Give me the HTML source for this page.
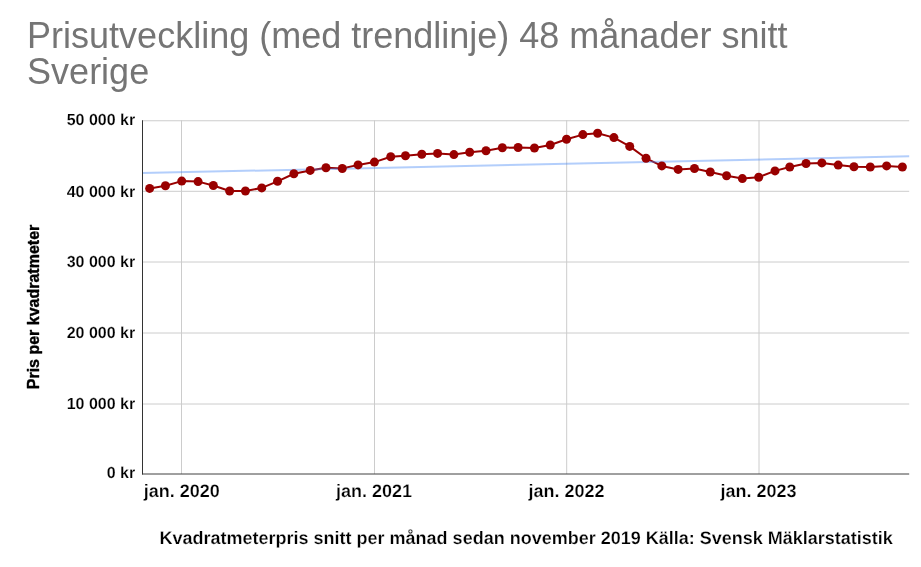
<!DOCTYPE html>
<html lang="sv">
<head>
<meta charset="utf-8">
<title>Prisutveckling (med trendlinje) 48 månader snitt Sverige</title>
<style>
html,body{margin:0;padding:0;background:#fff;}
body{width:921px;height:567px;overflow:hidden;font-family:"Liberation Sans",Arial,sans-serif;}
svg{display:block;will-change:transform;}
text{font-family:"Liberation Sans",Arial,sans-serif;}
.ylab,.xlab,.xtitle{text-rendering:geometricPrecision;stroke:#fff;stroke-width:0.25px;}
.ylab{stroke-width:0.18px;}
.title{font-size:36px;fill:#757575;font-weight:400;}
.ylab{font-size:16px;font-weight:700;fill:#000;text-anchor:end;}
.xlab{font-size:18px;font-weight:700;fill:#000;text-anchor:middle;}
.ytitle{font-size:16px;font-weight:700;fill:#000;text-anchor:middle;stroke:#000;stroke-width:0.4px;stroke-linejoin:round;}
.xtitle{font-size:18px;font-weight:700;fill:#000;text-anchor:middle;}
</style>
</head>
<body>
<svg width="921" height="567" viewBox="0 0 921 567">
<rect x="0" y="0" width="921" height="567" fill="#ffffff"/>
<g>
<text class="title" x="27.1" y="48.0">Prisutveckling (med trendlinje) 48 månader snitt</text>
<text class="title" x="27.1" y="84">Sverige</text>
</g>
<g stroke="#cccccc" stroke-width="1" fill="none">
<line x1="142.0" y1="120.75" x2="909.2" y2="120.75"/>
<line x1="142.0" y1="191.3" x2="909.2" y2="191.3"/>
<line x1="142.0" y1="262.0" x2="909.2" y2="262.0"/>
<line x1="142.0" y1="333.0" x2="909.2" y2="333.0"/>
<line x1="142.0" y1="404.0" x2="909.2" y2="404.0"/>
<line x1="181.5" y1="120.25" x2="181.5" y2="474"/>
<line x1="374.5" y1="120.25" x2="374.5" y2="474"/>
<line x1="566.7" y1="120.25" x2="566.7" y2="474"/>
<line x1="759.0" y1="120.25" x2="759.0" y2="474"/>
</g>
<polyline points="149.64,188.40 165.43,185.80 181.75,181.10 198.07,181.60 213.33,185.50 229.65,191.00 245.44,191.00 261.76,187.90 277.55,181.30 293.87,173.75 310.19,170.40 325.98,167.80 342.30,168.50 358.09,164.90 374.41,162.10 390.73,156.70 405.47,155.80 421.79,154.30 437.58,153.40 453.90,154.60 469.69,152.30 486.01,150.80 502.33,147.70 518.12,147.50 534.44,148.00 550.23,145.00 566.55,139.30 582.87,134.60 597.61,133.30 613.92,137.60 629.72,146.40 646.03,158.30 661.83,165.90 678.15,169.40 694.46,168.50 710.26,172.00 726.57,175.80 742.37,178.60 758.68,177.20 775.00,170.90 789.74,167.00 806.06,163.50 821.85,162.90 838.17,165.10 853.96,166.80 870.28,167.00 886.60,165.90 902.39,167.00" fill="none" stroke="#990000" stroke-width="2" stroke-linejoin="round"/>
<line x1="142.0" y1="173.1" x2="909.2" y2="156.2" stroke="#4285f4" stroke-opacity="0.4" stroke-width="2" fill="none"/>
<line x1="142.0" y1="474" x2="909.2" y2="474" stroke="#404040" stroke-width="1"/>
<line x1="142.5" y1="120.25" x2="142.5" y2="474.5" stroke="#333333" stroke-width="1"/>
<g fill="#990000">
<circle cx="149.64" cy="188.40" r="4.5"/>
<circle cx="165.43" cy="185.80" r="4.5"/>
<circle cx="181.75" cy="181.10" r="4.5"/>
<circle cx="198.07" cy="181.60" r="4.5"/>
<circle cx="213.33" cy="185.50" r="4.5"/>
<circle cx="229.65" cy="191.00" r="4.5"/>
<circle cx="245.44" cy="191.00" r="4.5"/>
<circle cx="261.76" cy="187.90" r="4.5"/>
<circle cx="277.55" cy="181.30" r="4.5"/>
<circle cx="293.87" cy="173.75" r="4.5"/>
<circle cx="310.19" cy="170.40" r="4.5"/>
<circle cx="325.98" cy="167.80" r="4.5"/>
<circle cx="342.30" cy="168.50" r="4.5"/>
<circle cx="358.09" cy="164.90" r="4.5"/>
<circle cx="374.41" cy="162.10" r="4.5"/>
<circle cx="390.73" cy="156.70" r="4.5"/>
<circle cx="405.47" cy="155.80" r="4.5"/>
<circle cx="421.79" cy="154.30" r="4.5"/>
<circle cx="437.58" cy="153.40" r="4.5"/>
<circle cx="453.90" cy="154.60" r="4.5"/>
<circle cx="469.69" cy="152.30" r="4.5"/>
<circle cx="486.01" cy="150.80" r="4.5"/>
<circle cx="502.33" cy="147.70" r="4.5"/>
<circle cx="518.12" cy="147.50" r="4.5"/>
<circle cx="534.44" cy="148.00" r="4.5"/>
<circle cx="550.23" cy="145.00" r="4.5"/>
<circle cx="566.55" cy="139.30" r="4.5"/>
<circle cx="582.87" cy="134.60" r="4.5"/>
<circle cx="597.61" cy="133.30" r="4.5"/>
<circle cx="613.92" cy="137.60" r="4.5"/>
<circle cx="629.72" cy="146.40" r="4.5"/>
<circle cx="646.03" cy="158.30" r="4.5"/>
<circle cx="661.83" cy="165.90" r="4.5"/>
<circle cx="678.15" cy="169.40" r="4.5"/>
<circle cx="694.46" cy="168.50" r="4.5"/>
<circle cx="710.26" cy="172.00" r="4.5"/>
<circle cx="726.57" cy="175.80" r="4.5"/>
<circle cx="742.37" cy="178.60" r="4.5"/>
<circle cx="758.68" cy="177.20" r="4.5"/>
<circle cx="775.00" cy="170.90" r="4.5"/>
<circle cx="789.74" cy="167.00" r="4.5"/>
<circle cx="806.06" cy="163.50" r="4.5"/>
<circle cx="821.85" cy="162.90" r="4.5"/>
<circle cx="838.17" cy="165.10" r="4.5"/>
<circle cx="853.96" cy="166.80" r="4.5"/>
<circle cx="870.28" cy="167.00" r="4.5"/>
<circle cx="886.60" cy="165.90" r="4.5"/>
<circle cx="902.39" cy="167.00" r="4.5"/>
</g>
<g>
<text class="ylab" x="135.2" y="125.4">50 000 kr</text>
<text class="ylab" x="135.2" y="196.6">40 000 kr</text>
<text class="ylab" x="135.2" y="266.9">30 000 kr</text>
<text class="ylab" x="135.2" y="337.9">20 000 kr</text>
<text class="ylab" x="135.2" y="408.9">10 000 kr</text>
<text class="ylab" x="135.2" y="478.4">0 kr</text>
</g>
<g>
<text class="xlab" x="181.8" y="497.1">jan. 2020</text>
<text class="xlab" x="374.1" y="497.1">jan. 2021</text>
<text class="xlab" x="566.6" y="497.1">jan. 2022</text>
<text class="xlab" x="758.6" y="497.1">jan. 2023</text>
</g>
<text class="ytitle" transform="translate(38.8,307.0) rotate(-90)">Pris per kvadratmeter</text>
<text class="xtitle" x="526.2" y="543.5">Kvadratmeterpris snitt per månad sedan november 2019 Källa: Svensk Mäklarstatistik</text>
</svg>
</body>
</html>
